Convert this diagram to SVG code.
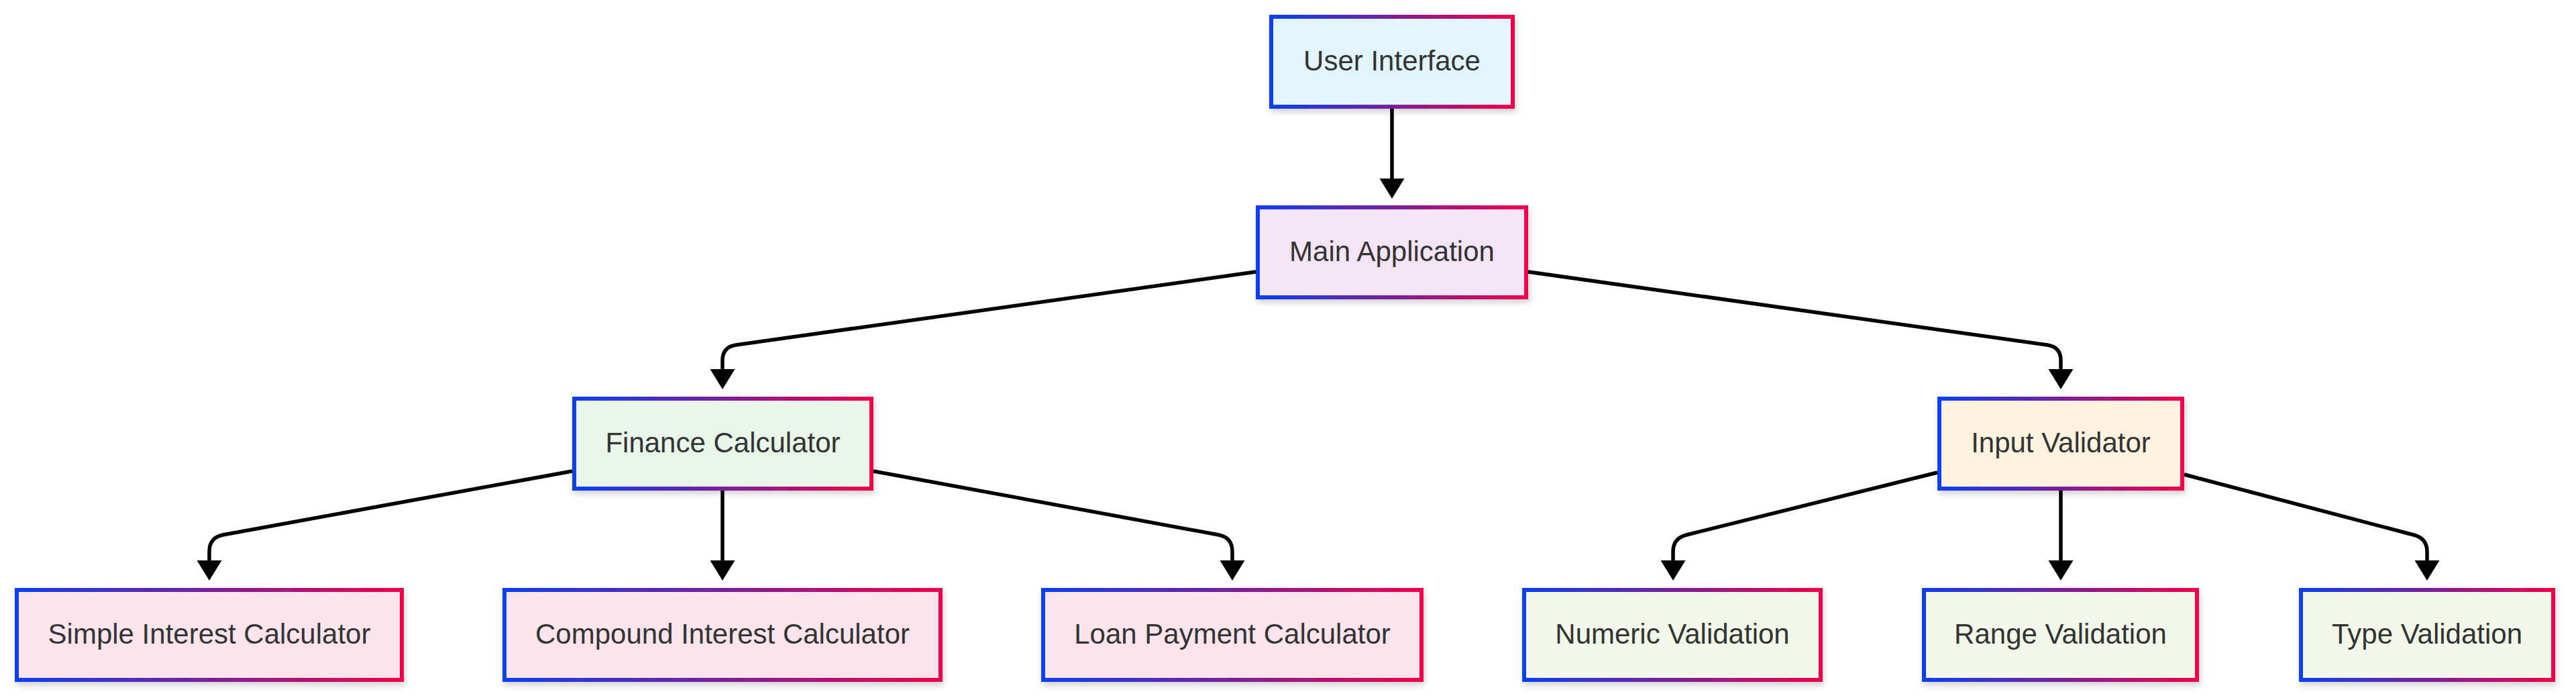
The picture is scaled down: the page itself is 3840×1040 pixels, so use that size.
<svg xmlns="http://www.w3.org/2000/svg" width="3840" height="1040" viewBox="0 0 3840 1040">
  <defs>
    <linearGradient id="borderGrad" x1="0" y1="0" x2="1" y2="0">
      <stop offset="0" stop-color="#0a3ff0"/>
      <stop offset="0.5" stop-color="#7a1f9a"/>
      <stop offset="1" stop-color="#f0004b"/>
    </linearGradient>
    <filter id="shadow" x="-10%" y="-20%" width="120%" height="150%">
      <feDropShadow dx="2" dy="5" stdDeviation="5" flood-color="#000" flood-opacity="0.18"/>
    </filter>
    <marker id="arrow" viewBox="0 0 30 37" refX="0" refY="18.5" markerWidth="30" markerHeight="37" markerUnits="userSpaceOnUse" orient="auto">
      <path d="M0,0 L30,18.5 L0,37 Z" fill="#000"/>
    </marker>
  </defs>
  <style>
    .box { stroke: url(#borderGrad); stroke-width: 6; filter: url(#shadow); }
    .lbl { font-family: "Liberation Sans", Arial, Helvetica, sans-serif; font-size: 42px; fill: #333333; text-anchor: middle; }
    .edge { fill: none; stroke: #000; stroke-width: 5.5; marker-end: url(#arrow); }
    .ui { fill: #e1f5fe; }
    .main { fill: #f3e5f5; }
    .fin { fill: #e8f5e9; }
    .inp { fill: #fff3e0; }
    .calc { fill: #fce4ec; }
    .val { fill: #f1f8e9; }
  </style>
  <rect width="3840" height="1040" fill="#ffffff"/>

  <g id="connectors">
    <path class="edge" d="M2075,162 L2075,266"/>
    <path class="edge" d="M1872,405 L1097,514 Q1077,517 1077,537 L1077,550"/>
    <path class="edge" d="M2278,405 L3052,514 Q3072,517 3072,537 L3072,550"/>
    <path class="edge" d="M853,702 L332,797 Q312,801 312,822 L312,835"/>
    <path class="edge" d="M1077,731 L1077,835"/>
    <path class="edge" d="M1302,702 L1817,797 Q1837,801 1837,822 L1837,835"/>
    <path class="edge" d="M2888,704 L2514,797 Q2494,802 2494,822 L2494,835"/>
    <path class="edge" d="M3072,731 L3072,835"/>
    <path class="edge" d="M3256,707 L3598,797 Q3618,802 3618,822 L3618,835"/>
  </g>

  <g id="node-ui">
    <rect class="box ui" x="1895" y="25" width="360" height="134"/>
    <text class="lbl" x="2075" y="105">User Interface</text>
  </g>
  <g id="node-main">
    <rect class="box main" x="1875" y="309" width="400" height="134"/>
    <text class="lbl" x="2075" y="389">Main Application</text>
  </g>
  <g id="node-finance">
    <rect class="box fin" x="856" y="594" width="443" height="134"/>
    <text class="lbl" x="1077.5" y="674">Finance Calculator</text>
  </g>
  <g id="node-input">
    <rect class="box inp" x="2891" y="594" width="362" height="134"/>
    <text class="lbl" x="3072" y="674">Input Validator</text>
  </g>
  <g id="node-simple">
    <rect class="box calc" x="25" y="879" width="574" height="134"/>
    <text class="lbl" x="312" y="959">Simple Interest Calculator</text>
  </g>
  <g id="node-compound">
    <rect class="box calc" x="752" y="879" width="650" height="134"/>
    <text class="lbl" x="1077" y="959">Compound Interest Calculator</text>
  </g>
  <g id="node-loan">
    <rect class="box calc" x="1555" y="879" width="564" height="134"/>
    <text class="lbl" x="1837" y="959">Loan Payment Calculator</text>
  </g>
  <g id="node-numeric">
    <rect class="box val" x="2272" y="879" width="442" height="134"/>
    <text class="lbl" x="2493" y="959">Numeric Validation</text>
  </g>
  <g id="node-range">
    <rect class="box val" x="2868" y="879" width="407" height="134"/>
    <text class="lbl" x="3071.5" y="959">Range Validation</text>
  </g>
  <g id="node-type">
    <rect class="box val" x="3430" y="879" width="376" height="134"/>
    <text class="lbl" x="3618" y="959">Type Validation</text>
  </g>
</svg>
